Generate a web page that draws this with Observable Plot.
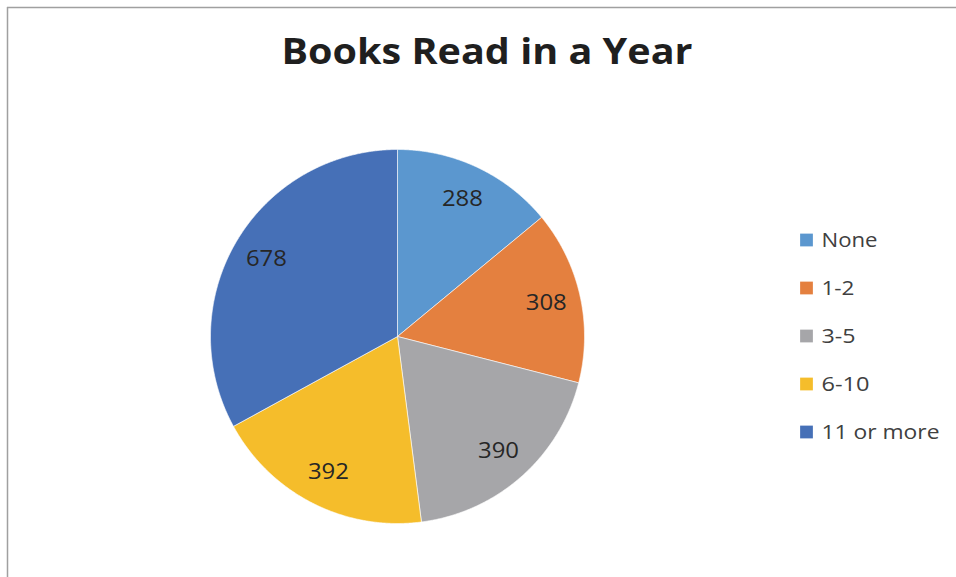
<!DOCTYPE html>
<html>
<head>
<meta charset="utf-8">
<script src="https://cdn.jsdelivr.net/npm/d3@7"></script>
<script src="https://cdn.jsdelivr.net/npm/@observablehq/plot@0.6"></script>
<style>
  html, body { margin: 0; padding: 0; background: #fff; }
  #chart svg { display: block; }
</style>
</head>
<body>
<div id="chart"></div>
<script>
const title = "Books Read in a Year";
const categories = ["None", "1-2", "3-5", "6-10", "11 or more"];
const values = [288, 308, 390, 392, 678];
const colors = ["#5b97cf", "#e4803f", "#a6a6a9", "#f5bd2b", "#4670b7"];

// layout
const W = 956, H = 577;
const cx = 397, cy = 336, R = 187;
const labelR = 0.815 * R;

const pie = d3.pie().sort(null).value(d => d.value);
const arcs = pie(categories.map((c, i) => ({cat: c, value: values[i]})));

// slice polygons (angle measured clockwise from 12 o'clock)
const slicePts = [];
for (const a of arcs) {
  const cat = a.data.cat;
  slicePts.push({cat, x: cx, y: cy});
  const n = Math.max(2, Math.ceil((a.endAngle - a.startAngle) / 0.005));
  for (let k = 0; k <= n; k++) {
    const t = a.startAngle + (a.endAngle - a.startAngle) * k / n;
    slicePts.push({cat, x: cx + R * Math.sin(t), y: cy - R * Math.cos(t)});
  }
  slicePts.push({cat, x: cx, y: cy});
}

const labels = arcs.map(a => {
  const m = (a.startAngle + a.endAngle) / 2;
  return {text: String(a.data.value), x: cx + labelR * Math.sin(m), y: cy - labelR * Math.cos(m)};
});

const legX = 806, legY0 = 239.5, legStep = 48;
const legend = categories.map((c, i) => ({cat: c, x: legX, y: legY0 + i * legStep}));

const chart = Plot.plot({
  width: W, height: H,
  margin: 0,
  style: {background: "#fff"},
  x: {domain: [0, W], range: [0, W], axis: null},
  y: {domain: [0, H], range: [0, H], axis: null},
  color: {domain: categories, range: colors},
  marks: [
    Plot.ruleY([7], {x1: 7, x2: W, stroke: "#a0a0a0", strokeWidth: 1.5}),
    Plot.ruleX([7], {y1: 7, y2: H, stroke: "#a0a0a0", strokeWidth: 1.5}),
    Plot.line(slicePts, {x: "x", y: "y", z: "cat", fill: "cat", stroke: "#ffffff", strokeWidth: 0.75, strokeOpacity: 0.8, curve: "linear"}),
    Plot.text(labels, {x: "x", y: "y", text: "text", fontSize: 22, fill: "#262626",
      fontFamily: "'Open Sans', sans-serif", textAnchor: "middle", lineAnchor: "middle"}),
    Plot.dot(legend, {x: "x", y: "y", symbol: "square", r: 7.2, fill: "cat", stroke: null}),
    Plot.text(legend, {x: d => d.x + 15, y: "y", text: "cat", fontSize: 20.5, fill: "#404040",
      fontFamily: "'Open Sans', sans-serif", textAnchor: "start", lineAnchor: "middle"}),
    Plot.text([title], {x: () => 486.5, y: () => 63, text: d => d, fontSize: 35, fontWeight: "bold",
      fill: "#1f1f1f", fontFamily: "'Open Sans', sans-serif", textAnchor: "middle", lineAnchor: "bottom"})
  ]
});

document.getElementById("chart").appendChild(chart);

// stretch text horizontally to the reference widths
const widths = {"Books Read in a Year": 411, "None": 56, "1-2": 33, "3-5": 34, "6-10": 48, "11 or more": 118,
  "288": 41, "308": 41, "390": 41, "392": 41, "678": 41};
chart.querySelectorAll("text").forEach(t => {
  const w = widths[t.textContent.trim()];
  if (w) { t.setAttribute("textLength", w); t.setAttribute("lengthAdjust", "spacingAndGlyphs"); }
});
</script>
</body>
</html>
